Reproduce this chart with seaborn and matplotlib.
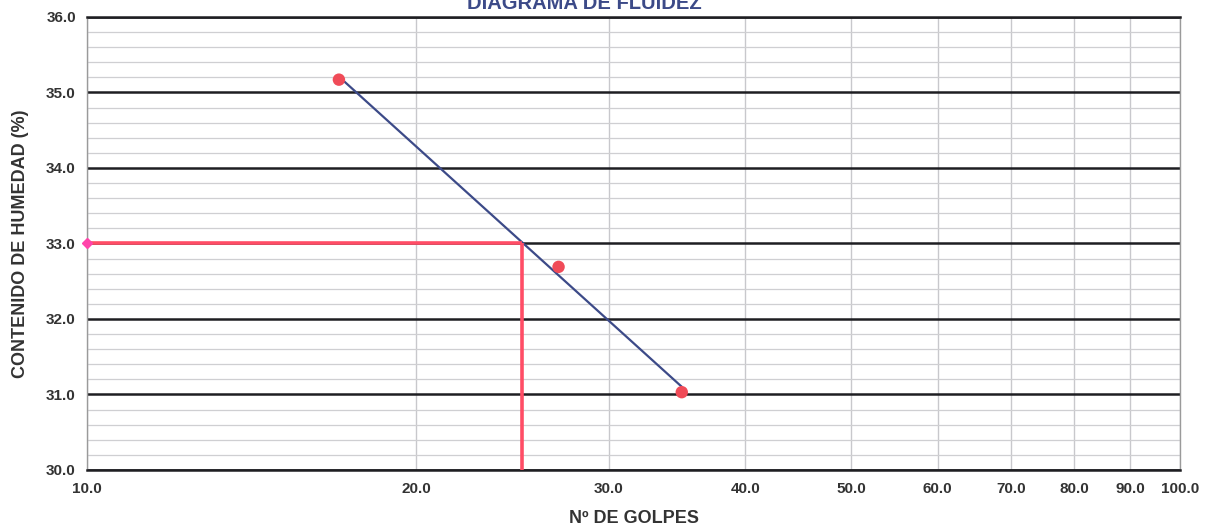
import numpy as np
import pandas as pd
import matplotlib
matplotlib.use('Agg')
import matplotlib.pyplot as plt
import seaborn as sns
from matplotlib.ticker import FixedLocator, FixedFormatter, NullLocator, MultipleLocator

# values
golpes = [17.0, 27.0, 35.0]
humedad = [35.17, 32.69, 31.03]
n_ref = 25.0
ll_ref = 33.0
x_ticks = [10, 20, 30, 40, 50, 60, 70, 80, 90, 100]
x_labels = ['10.0', '20.0', '30.0', '40.0', '50.0', '60.0', '70.0', '80.0', '90.0', '100.0']

data = pd.DataFrame({'golpes': golpes, 'humedad': humedad})

sns.set_style('white')
plt.rcParams['font.family'] = ['Liberation Sans', 'DejaVu Sans']

fig = plt.figure(figsize=(12.08, 5.31), dpi=100)
ax = fig.add_axes([0.072, 0.115, 0.905, 0.853])

ax.set_xscale('log')
ax.set_xlim(10, 100)
ax.set_ylim(30, 36)

# grid
ax.xaxis.set_major_locator(FixedLocator(x_ticks))
ax.xaxis.set_major_formatter(FixedFormatter(x_labels))
ax.xaxis.set_minor_locator(NullLocator())
ax.yaxis.set_major_locator(MultipleLocator(1))
ax.yaxis.set_minor_locator(MultipleLocator(0.2))
ax.yaxis.set_major_formatter(matplotlib.ticker.FormatStrFormatter('%.1f'))
ax.grid(axis='x', which='major', color='#c8c8cc', lw=1.0)
ax.grid(axis='y', which='minor', color='#cfcfd2', lw=0.9)
ax.grid(axis='y', which='major', color='#1e1e22', lw=1.8)
ax.set_axisbelow(True)
for s in ['left', 'right']:
    ax.spines[s].set_color('#9a9a9a')
    ax.spines[s].set_linewidth(1.0)
for s in ['top', 'bottom']:
    ax.spines[s].set_color('#1e1e22')
    ax.spines[s].set_linewidth(1.8)

# regression line (humedad vs log golpes)
sns.regplot(data=data, x='golpes', y='humedad', logx=True, ci=None, scatter=False,
            truncate=True, ax=ax, line_kws={'color': '#3c4a88', 'lw': 1.6, 'zorder': 3})

# reference lines for N = 25
ax.plot([10, n_ref], [ll_ref, ll_ref], color='#ff4d66', lw=2.6, zorder=4, solid_capstyle='butt')
ax.plot([n_ref, n_ref], [30, ll_ref], color='#ff4d66', lw=2.6, zorder=4, solid_capstyle='butt')
ax.plot([10], [ll_ref], marker='D', color='#ff44aa', ms=5, zorder=6, clip_on=False)

sns.scatterplot(data=data, x='golpes', y='humedad', color='#f04b58', s=80,
                edgecolor='none', ax=ax, zorder=5)

ax.tick_params(axis='both', which='both', length=0, labelsize=11, colors='#333333')
ax.tick_params(axis='x', pad=9)
ax.tick_params(axis='y', pad=8)
for lab in ax.get_xticklabels() + ax.get_yticklabels():
    lab.set_fontweight('bold')

ax.set_xlabel('Nº DE GOLPES', fontsize=13, fontweight='bold', color='#333333', labelpad=10)
ax.set_ylabel('CONTENIDO DE HUMEDAD (%)', fontsize=13, fontweight='bold', color='#333333', labelpad=12)

fig.text(0.484, 0.994, 'DIAGRAMA DE FLUIDEZ', ha='center', va='center',
         fontsize=14.5, fontweight='bold', color='#3c4a88')

fig.savefig('out.png', dpi=100)
